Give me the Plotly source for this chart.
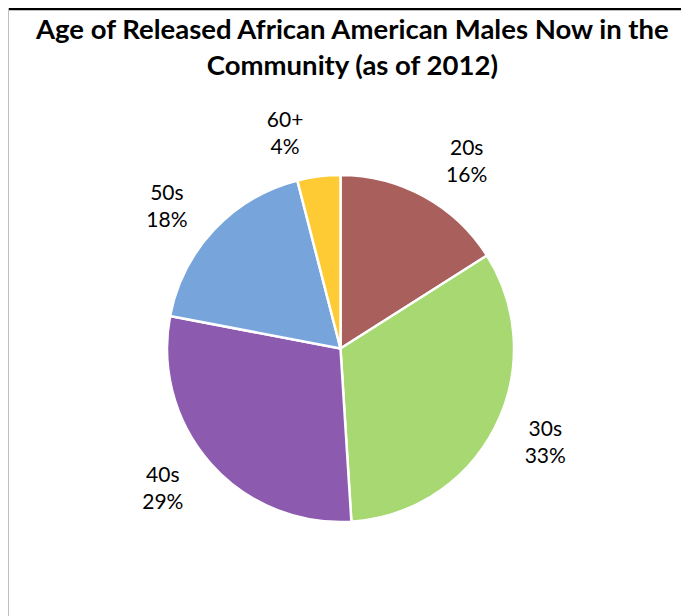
import plotly.graph_objects as go

labels = ["20s", "30s", "40s", "50s", "60+"]
values = [16, 33, 29, 18, 4]
colors = ["#A9605C", "#A8D872", "#8C5BB0", "#78A4DC", "#FFCB35"]
title_text = "Age of Released African American Males Now in the<br>Community (as of 2012)"

# page shows the figure with an 8px body offset
OFF = 8
W, H = 689 - OFF, 616 - OFF
FONT = "Lato"

def px_x(x):
    return (x - OFF) / W

def px_y(y):
    return 1 - (y - OFF) / H

# pie circle (screen px): center (340.5, 348.5), radius 173.5
cx, cy, r = 340.5, 348.5, 173.5
lr = 192  # ghost pie radius for label placement

fig = go.Figure()
fig.add_trace(go.Pie(
    labels=labels, values=values, sort=False, direction="clockwise", rotation=0,
    marker=dict(colors=colors, line=dict(color="white", width=2.5)),
    textinfo="none", hoverinfo="label+percent", showlegend=False,
    domain=dict(x=[px_x(cx - r), px_x(cx + r)], y=[px_y(cy + r), px_y(cy - r)]),
))
fig.add_trace(go.Pie(
    labels=labels, values=values, sort=False, direction="clockwise", rotation=0,
    marker=dict(colors=["rgba(0,0,0,0)"] * len(values), line=dict(width=0)),
    textinfo="label+percent", texttemplate="%{label}<br>%{percent:.0%}",
    textposition="outside", outsidetextfont=dict(family=FONT, size=21, color="#000000"),
    hoverinfo="skip", showlegend=False,
    domain=dict(x=[px_x(cx - lr), px_x(cx + lr)], y=[px_y(cy + lr), px_y(cy - lr)]),
))

fig.update_layout(
    width=W, height=H,
    margin=dict(l=0, r=0, t=0, b=0),
    paper_bgcolor="white",
    font=dict(family=FONT, color="#000000"),
    annotations=[dict(text="<b>" + title_text + "</b>", xref="paper", yref="paper",
                      x=0.5 + 3 / W, y=px_y(10), xanchor="center", yanchor="top",
                      showarrow=False, align="center",
                      font=dict(family=FONT, size=27.5, color="#000000"))],
    shapes=[
        dict(type="line", xref="paper", yref="paper", x0=0, x1=px_x(687), y0=1 - 1 / H, y1=1 - 1 / H,
             line=dict(color="#000000", width=2.5)),
        dict(type="line", xref="paper", yref="paper", x0=0.5 / W, x1=0.5 / W, y0=1, y1=0,
             line=dict(color="#BFBFBF", width=1)),
        dict(type="line", xref="paper", yref="paper", x0=px_x(686), x1=px_x(686), y0=1, y1=0,
             line=dict(color="#000000", width=1.5)),
    ],
)

fig.write_html("out.html")
